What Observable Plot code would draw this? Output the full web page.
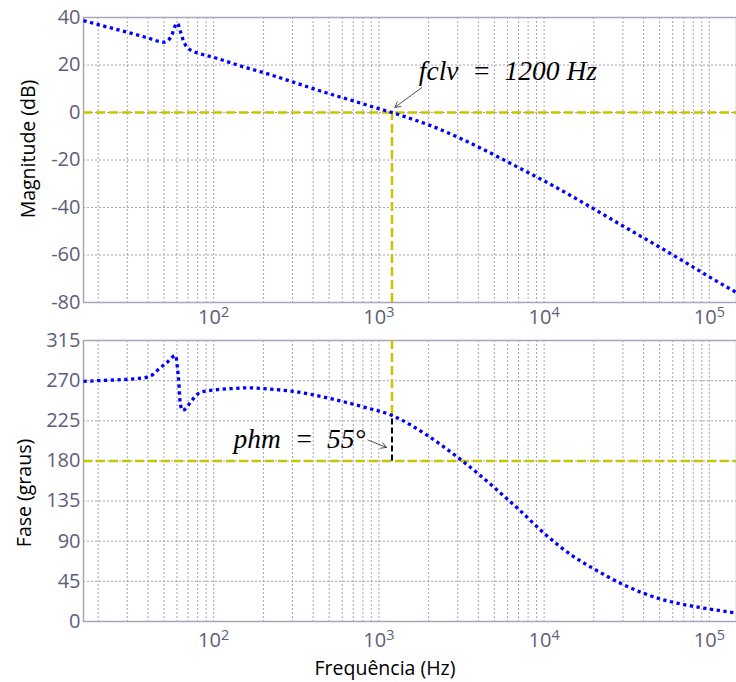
<!DOCTYPE html>
<html><head><meta charset="utf-8">
<script src="https://cdn.jsdelivr.net/npm/d3@7"></script>
<script src="https://cdn.jsdelivr.net/npm/@observablehq/plot@0.6"></script>
<style>
body{margin:0;background:#fff}
#chart{width:736px;height:682px;overflow:hidden;background:#fff}
#chart svg{display:block}
</style>
</head><body><div id="chart"></div>
<script>
// ---- data ----
const xDomain = [16.3, 146000];
const magFreq = [16.3, 20, 30, 40, 50, 53.4, 56.2, 58, 60.3, 63.1, 65.5, 70.5, 83.4, 100, 150, 200, 300, 500, 700, 1000, 1200, 1500, 2000, 3000, 4000, 5000, 7000, 10000, 20000, 30000, 50000, 70000, 100000, 146000];
const magDb   = [38.7, 37.0, 33.8, 31.4, 29.6, 30.6, 33.1, 35.9, 37.6, 33.8, 30.3, 26.9, 24.7, 23.2, 19.3, 16.8, 12.9, 7.9, 4.9, 1.6, 0, -2.2, -5.2, -10.4, -14.5, -17.9, -23.2, -28.8, -40.6, -47.8, -56.7, -62.7, -69.2, -75.8];
const phFreq  = [16.3, 20, 30, 35, 39.7, 43, 45.6, 52.4, 58.8, 60.3, 61.6, 62.5, 64.6, 67.7, 72.5, 83.4, 100, 127, 165, 201, 323, 512, 811, 1200, 2000, 3000, 4000, 5000, 7000, 10000, 15000, 20000, 30000, 50000, 70000, 100000, 146000];
const phDeg   = [269.2, 270, 271.5, 272.5, 274, 277, 281.5, 290.7, 298.2, 285, 266.5, 248, 236.7, 238.6, 246, 257, 259.5, 261, 262, 261, 257.2, 249.8, 240.4, 231, 207.7, 184, 165.5, 150, 126, 98.9, 73, 59, 41.5, 25.5, 19, 14, 9.5];
const magTicks = [-80, -60, -40, -20, 0, 20, 40];
const phaseTicks = [0, 45, 90, 135, 180, 225, 270, 315];
const decadeTicks = [100, 1000, 10000, 100000];
const decadeLabels = ["10^2", "10^3", "10^4", "10^5"];
const fCross = [1200];
const magRef = [0];
const phaseRef = [180];
const phaseAtCross = [231];
const magAnnot = ["fclv\u2002=\u20021200 Hz"];
const magAnnotPos = [1745, 13.5];           // freq, dB (text baseline start)
const magArrow = [1820, 10.5, 1250, 2.2];   // x1,y1,x2,y2
const phAnnot = ["phm\u2002=\u200255°"];
const phAnnotPos = [132, 194.5];
const phArrow = [857, 203.5, 1110, 195.2];
const labels = {mag: "Magnitude (dB)", phase: "Fase (graus)", freq: "Frequência (Hz)"};

// ---- styling ----
const gridF = [];
for (let d = 10; d <= 100000; d *= 10) for (let m = 1; m < 10; m++) { const v = d * m; if (v > xDomain[0] && v < xDomain[1]) gridF.push(v); }
const gridStyle = {stroke: "#8c8ca6", strokeOpacity: 1, strokeWidth: 0.8, strokeDasharray: "2,2"};
const yellow = "#c8c400";
const tickColor = "#5e5e78";
const curveStyle = {stroke: "#0000ff", strokeWidth: 3.3, strokeDasharray: "3.3,3.5", strokeLinecap: "butt", curve: "monotone-x"};
const serif = {fontFamily: "Liberation Serif", fontStyle: "italic", fontSize: 27.5, fill: "black"};
const labelSize = 19.5;
const tickSize = 20;

function supTicks(svg) {
  d3.select(svg).selectAll('g[aria-label="x-axis tick label"] text').each(function () {
    const t = this.textContent; const parts = t.split("^");
    if (parts.length < 2) return;
    this.textContent = "";
    d3.select(this).append("tspan").text(parts[0]);
    d3.select(this).append("tspan").attr("dy", "-0.5em").attr("font-size", "0.72em").text(parts[1]);
  });
}

const magIdx = d3.range(magFreq.length);
const phIdx = d3.range(phFreq.length);

const magChart = Plot.plot({
  width: 736, height: 330, marginLeft: 83, marginRight: 0, marginTop: 17, marginBottom: 28,
  style: {fontFamily: "Open Sans", background: "white", overflow: "visible"},
  x: {type: "log", domain: xDomain},
  y: {domain: [-80, 40]},
  marks: [
    Plot.gridX(gridF, gridStyle),
    Plot.gridY(magTicks, gridStyle),
    Plot.frame({stroke: "#a6a6ba", strokeWidth: 1.5}),
    Plot.axisY(magTicks, {tickSize: 0, tickPadding: 3, label: null, fontSize: tickSize, fill: tickColor, tickFormat: d => String(d)}),
    Plot.axisX(decadeTicks, {tickSize: 0, tickPadding: 7, label: null, fontSize: tickSize, fill: tickColor,
      tickFormat: d => decadeLabels[decadeTicks.indexOf(d)]}),
    Plot.text([labels.mag], {frameAnchor: "left", textAnchor: "middle", rotate: -90, dx: -55, dy: -11, fontSize: labelSize, fill: "black"}),
    Plot.ruleY(magRef, {stroke: yellow, strokeWidth: 2.5, strokeDasharray: "9,4"}),
    Plot.ruleX(fCross, {y1: -80, y2: magRef[0], stroke: yellow, strokeWidth: 2.5, strokeDasharray: "9,4"}),
    Plot.line(magIdx, {x: i => magFreq[i], y: i => magDb[i], ...curveStyle}),
    Plot.arrow([0], {x1: magArrow[0], y1: magArrow[1], x2: magArrow[2], y2: magArrow[3], stroke: "#222", strokeWidth: 0.8, headLength: 11}),
    Plot.text(magAnnot, {x: magAnnotPos[0], y: magAnnotPos[1], textAnchor: "start", lineAnchor: "bottom", ...serif})
  ]
});
supTicks(magChart);

const phaseChart = Plot.plot({
  width: 736, height: 352, marginLeft: 83, marginRight: 0, marginTop: 10, marginBottom: 61,
  style: {fontFamily: "Open Sans", background: "white", overflow: "visible"},
  x: {type: "log", domain: xDomain},
  y: {domain: [0, 315]},
  marks: [
    Plot.gridX(gridF, gridStyle),
    Plot.gridY(phaseTicks, gridStyle),
    Plot.frame({stroke: "#a6a6ba", strokeWidth: 1.5}),
    Plot.axisY(phaseTicks, {tickSize: 0, tickPadding: 3, label: null, fontSize: tickSize, fill: tickColor, tickFormat: d => String(d)}),
    Plot.axisX(decadeTicks, {tickSize: 0, tickPadding: 11, label: null, fontSize: tickSize, fill: tickColor,
      tickFormat: d => decadeLabels[decadeTicks.indexOf(d)]}),
    Plot.text([labels.phase], {frameAnchor: "left", textAnchor: "middle", rotate: -90, dx: -59, dy: 12, fontSize: labelSize, fill: "black"}),
    Plot.text([labels.freq], {frameAnchor: "bottom", textAnchor: "middle", dx: -25, dy: 53, fontSize: labelSize, fill: "black"}),
    Plot.ruleY(phaseRef, {stroke: yellow, strokeWidth: 2.5, strokeDasharray: "9,4"}),
    Plot.ruleX(fCross, {y1: 315, y2: phaseAtCross[0], stroke: yellow, strokeWidth: 2.5, strokeDasharray: "9,4"}),
    Plot.ruleX(fCross, {y1: phaseRef[0], y2: phaseAtCross[0], stroke: "black", strokeWidth: 2, strokeDasharray: "6,3"}),
    Plot.line(phIdx, {x: i => phFreq[i], y: i => phDeg[i], ...curveStyle}),
    Plot.arrow([0], {x1: phArrow[0], y1: phArrow[1], x2: phArrow[2], y2: phArrow[3], stroke: "#222", strokeWidth: 0.8, headLength: 11}),
    Plot.text(phAnnot, {x: phAnnotPos[0], y: phAnnotPos[1], textAnchor: "start", lineAnchor: "bottom", ...serif})
  ]
});
supTicks(phaseChart);

document.getElementById("chart").append(magChart, phaseChart);
</script>
</body></html>
